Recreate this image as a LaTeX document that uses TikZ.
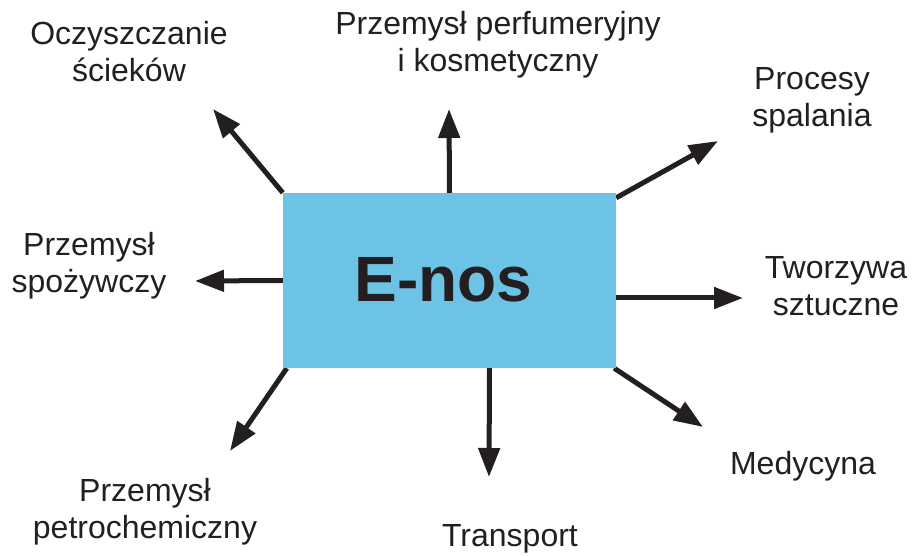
\documentclass[tikz,border=0pt]{standalone}
\usepackage{fontspec}
\setmainfont{Liberation Sans}
\usetikzlibrary{arrows.meta,backgrounds}
\definecolor{boxblue}{HTML}{6CC3E6}
\definecolor{arrowdark}{HTML}{231F20}
\tikzset{
  lbl/.style={inner sep=0pt,align=center,text=arrowdark,font=\fontsize{32}{37}\selectfont},
  conn/.style={draw=arrowdark,line width=5pt,-{Triangle[length=29pt,width=21pt]}},
  mainbox/.style={fill=boxblue,draw=none,inner sep=0pt,minimum width=333pt,minimum height=175pt,
    font=\fontsize{64}{70}\selectfont\bfseries,text=arrowdark}
}
\begin{document}
\begin{tikzpicture}[x=1pt,y=-1pt]
\useasboundingbox (0,0) rectangle (919,556);
\node[mainbox] (box) at (449.5,280.5) {\raisebox{3pt}{E-nos}\kern12pt\relax};
\coordinate (tTL) at (213,109);
\coordinate (tT) at (449,109);
\coordinate (tTR) at (718,141);
\coordinate (tL) at (195,281);
\coordinate (tR) at (743,298);
\coordinate (tBL) at (230,451);
\coordinate (tB) at (489,477);
\coordinate (tBR) at (703,427);
\begin{scope}[on background layer]
\draw[conn] (box.north west) -- (tTL);
\draw[conn] (box.north) -- (tT);
\draw[conn] ([yshift=-5pt]box.north east) -- (tTR);
\draw[conn] (box.west) -- (tL);
\draw[conn] ([yshift=-17.5pt]box.east) -- (tR);
\draw[conn] ([xshift=4pt]box.south west) -- (tBL);
\draw[conn] ([xshift=40pt]box.south) -- (tB);
\draw[conn] ([xshift=-2pt]box.south east) -- (tBR);
\end{scope}
\node[lbl] (l1) at (129,52) {Oczyszczanie\\ścieków};
\node[lbl] (l2) at (498,45) {Przemysł perfumeryjny\\i kosmetyczny};
\node[lbl] (l3) at (812,100) {Procesy\\spalania};
\node[lbl] (l4) at (89,266) {Przemysł\\spożywczy};
\node[lbl] (l5) at (836,286) {Tworzywa\\sztuczne};
\node[lbl] (l6) at (803,466) {Medycyna};
\node[lbl] (l7) at (145,512) {Przemysł\\petrochemiczny};
\node[lbl] (l8) at (510,539) {Transport};
\end{tikzpicture}
\end{document}
